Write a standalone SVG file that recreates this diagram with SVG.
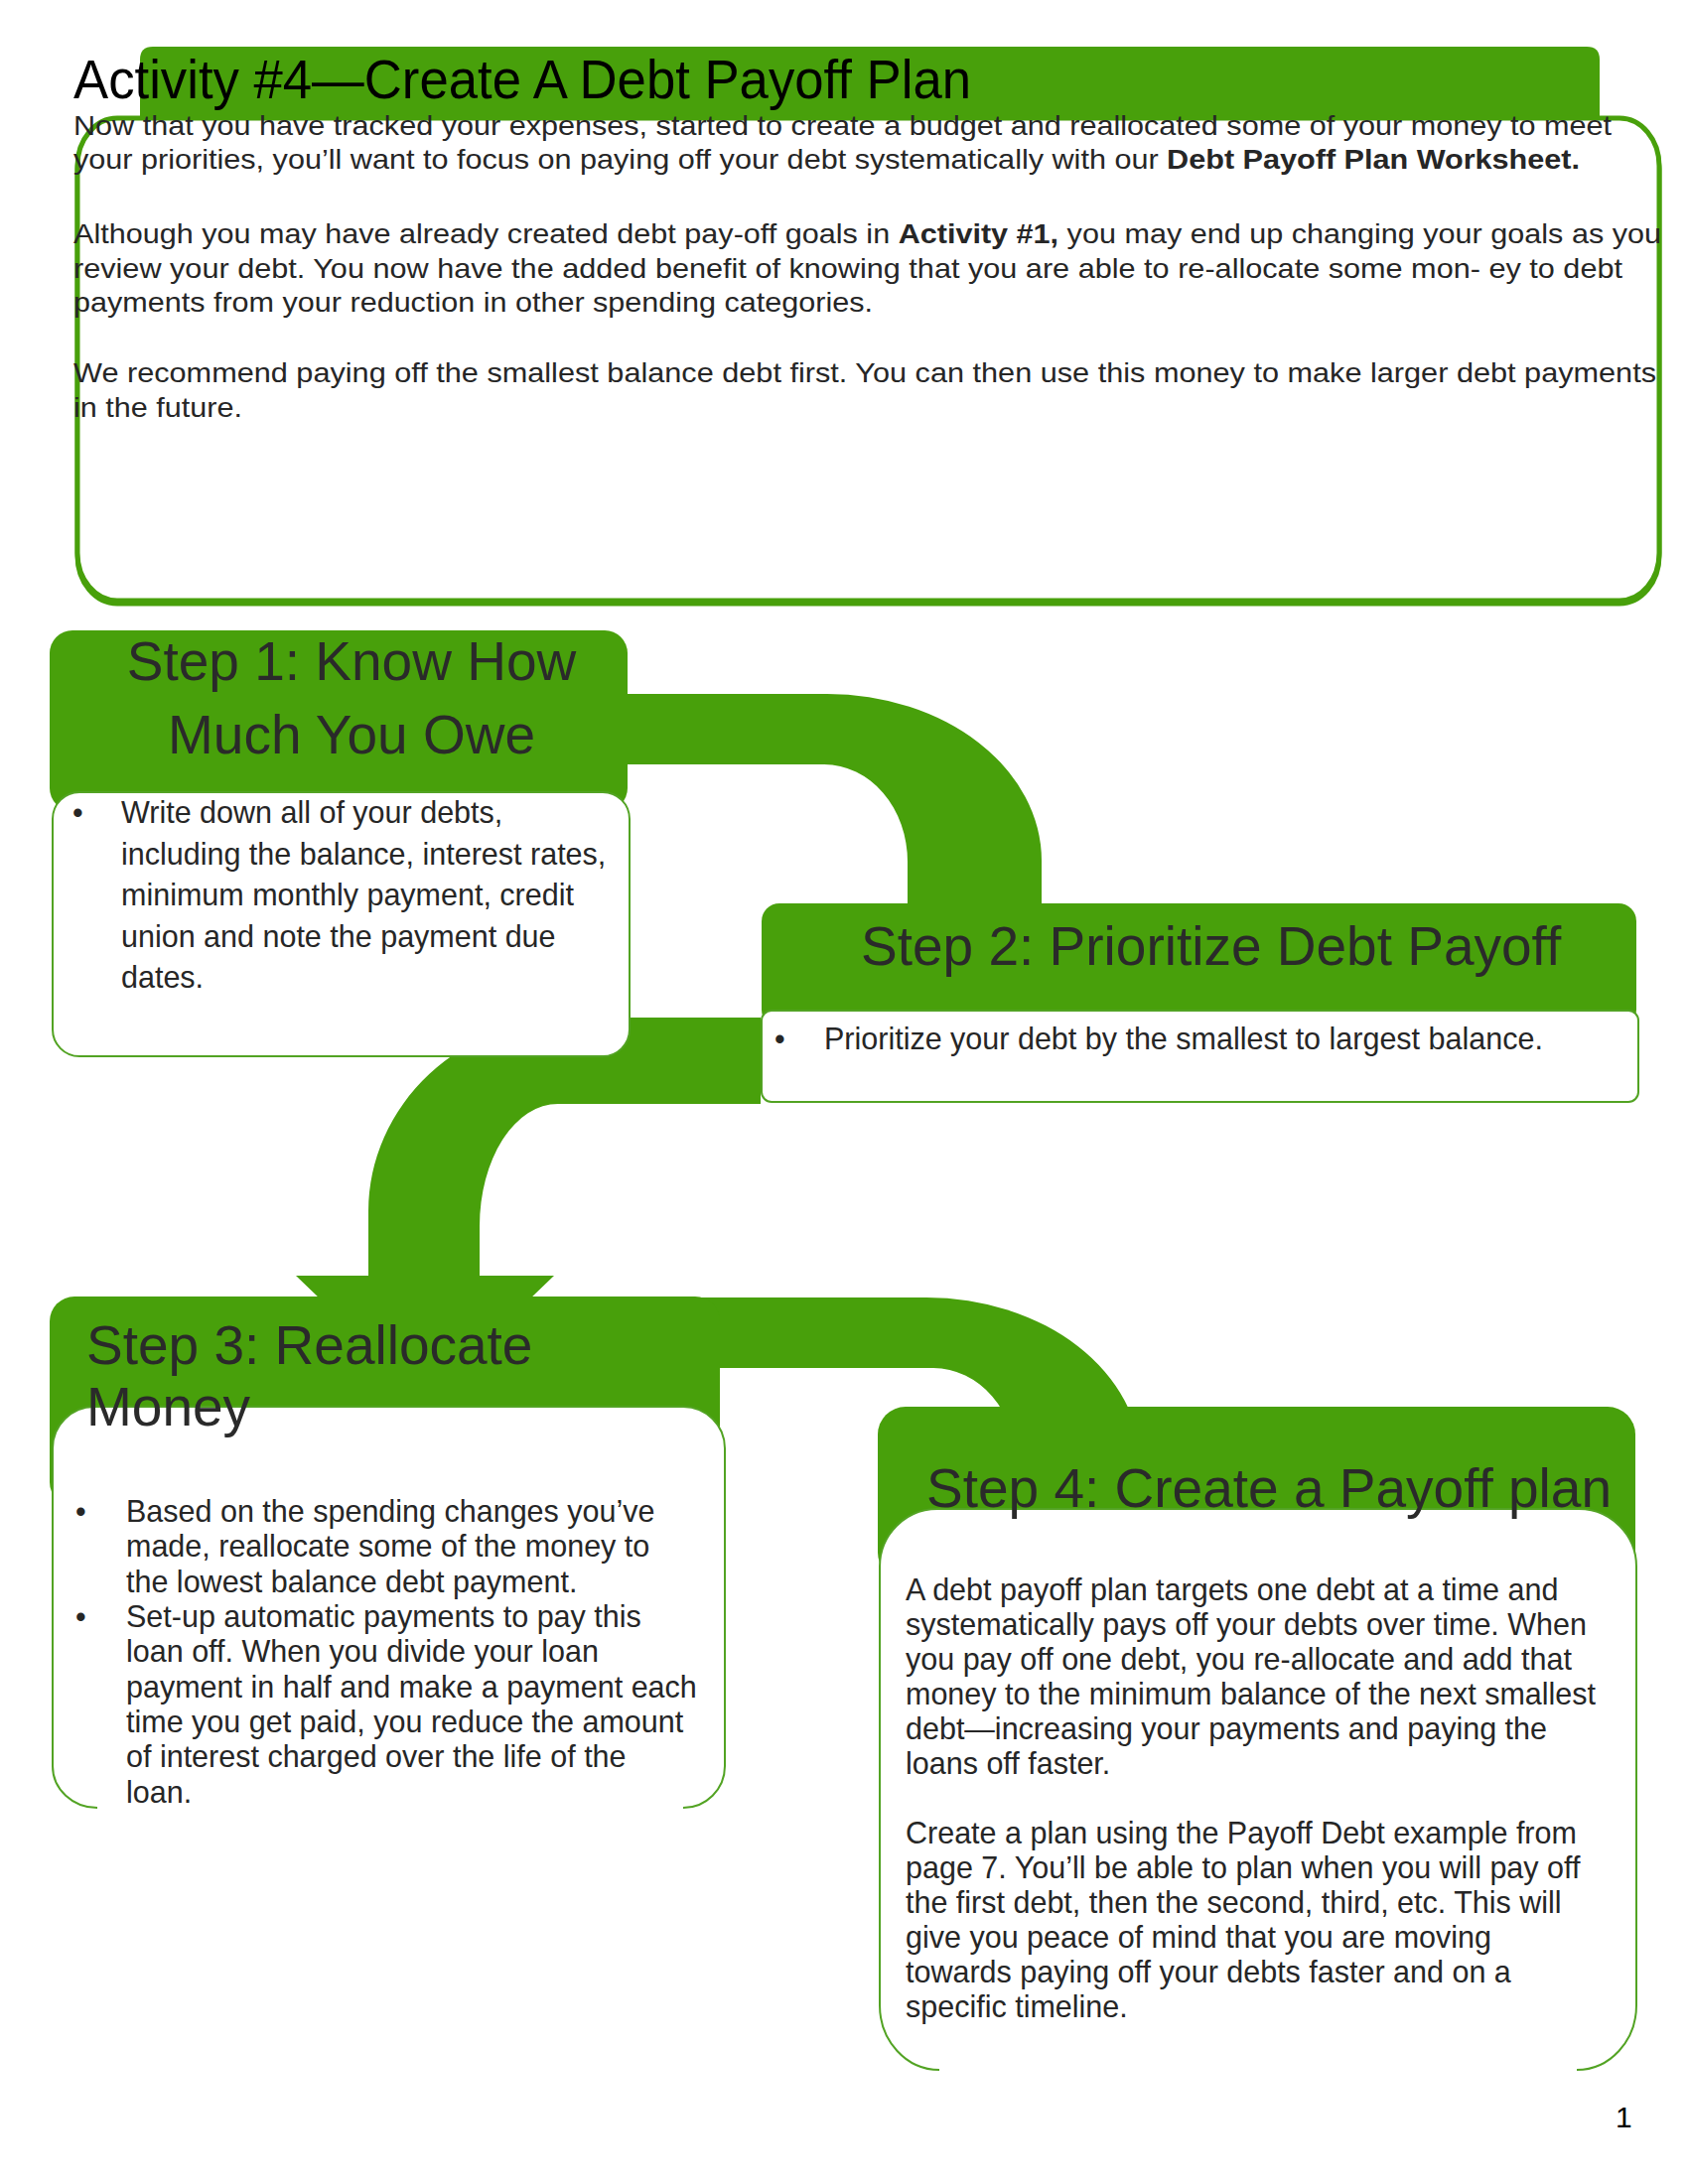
<svg xmlns="http://www.w3.org/2000/svg" width="1700" height="2200" viewBox="0 0 1700 2200">
<style>
.g{fill:#48a00b}
.box{fill:#fff;stroke:#52a323;stroke-width:2}
text{font-family:"Liberation Sans",Arial,sans-serif}
.ttl{font-size:55px;fill:#000}
.intro{font-size:28px;fill:#262626}
.hd{font-size:55px;fill:#2a2a2a}
.bt{font-size:30.5px;fill:#262626}
.pg{font-size:30px;fill:#000}
</style>
<rect width="1700" height="2200" fill="#fff"/>

<g id="title">
<path class="g" d="M141,119 V60 Q141,47 154,47 H1598 Q1611,47 1611,60 V119 Z"/>
<text class="ttl" x="74" y="99" textLength="904" lengthAdjust="spacingAndGlyphs">Activity #4—Create A Debt Payoff Plan</text>
</g>

<g id="intro">
<rect x="78" y="122" width="1593" height="486" rx="40" ry="48" fill="none" stroke="#48a00b" stroke-width="5"/>
<rect x="78" y="119" width="1593" height="486" rx="40" ry="48" fill="#fff" stroke="#48a00b" stroke-width="5"/>
<text class="intro" x="74" y="136" textLength="1549" lengthAdjust="spacingAndGlyphs">Now that you have tracked your expenses, started to create a budget and reallocated some of your money to meet</text>
<text class="intro" x="74" y="170" textLength="1517" lengthAdjust="spacingAndGlyphs">your priorities, you’ll want to focus on paying off your debt systematically with our <tspan font-weight="bold">Debt Payoff Plan Worksheet.</tspan></text>
<text class="intro" x="74" y="245" textLength="1599" lengthAdjust="spacingAndGlyphs">Although you may have already created debt pay-off goals in <tspan font-weight="bold">Activity #1,</tspan> you may end up changing your goals as you</text>
<text class="intro" x="74" y="280" textLength="1560" lengthAdjust="spacingAndGlyphs">review your debt. You now have the added benefit of knowing that you are able to re-allocate some mon- ey to debt</text>
<text class="intro" x="74" y="314" textLength="805" lengthAdjust="spacingAndGlyphs">payments from your reduction in other spending categories.</text>
<text class="intro" x="74" y="385" textLength="1594" lengthAdjust="spacingAndGlyphs">We recommend paying off the smallest balance debt first. You can then use this money to make larger debt payments</text>
<text class="intro" x="74" y="420" textLength="170" lengthAdjust="spacingAndGlyphs">in the future.</text>
</g>

<g id="connectors">
<path class="g" d="M620,699 H833 A216,168 0 0 1 1049,867 V918 H914 V868 A84,98 0 0 0 830,770 H620 Z"/>
<path class="g" d="M766,1025 H580 A209,195 0 0 0 371,1220 V1285 H298 L324,1310 H532 L558,1285 H483 V1235 A79,123 0 0 1 562,1112 H766 Z"/>
<path class="g" d="M700,1307 H933 A216,168 0 0 1 1149,1475 V1480 H1024 V1476 A84,98 0 0 0 940,1378 H700 Z"/>
</g>

<g id="step1">
<rect class="g" x="50" y="635" width="582" height="182" rx="23"/>
<text class="hd" x="354" y="685" text-anchor="middle">Step 1: Know How</text>
<text class="hd" x="354" y="759" text-anchor="middle">Much You Owe</text>
<rect class="box" x="53" y="798" width="581" height="266" rx="27"/>
<text class="bt" x="73" y="829">•</text>
<text class="bt" x="122" y="829">Write down all of your debts,</text>
<text class="bt" x="122" y="871">including the balance, interest rates,</text>
<text class="bt" x="122" y="912">minimum monthly payment, credit</text>
<text class="bt" x="122" y="954">union and note the payment due</text>
<text class="bt" x="122" y="995">dates.</text>
</g>

<g id="step2">
<rect class="g" x="767" y="910" width="881" height="125" rx="18"/>
<text class="hd" x="867" y="972">Step 2: Prioritize Debt Payoff</text>
<rect class="box" x="767" y="1018" width="883" height="92" rx="10"/>
<text class="bt" x="780" y="1057">•</text>
<text class="bt" x="830" y="1057">Prioritize your debt by the smallest to largest balance.</text>
</g>

<g id="step3">
<rect class="g" x="50" y="1306" width="675" height="212" rx="25"/>
<text class="hd" x="87" y="1374">Step 3: Reallocate</text>
<path class="box" d="M98,1821 A45,42 0 0 1 53,1779 V1459 A42,42 0 0 1 95,1417 H688 A42,42 0 0 1 730,1459 V1779 A42,42 0 0 1 688,1821"/>
<text class="hd" x="87" y="1436">Money</text>
<text class="bt" x="76" y="1533">•</text>
<text class="bt" x="127" y="1533">Based on the spending changes you’ve</text>
<text class="bt" x="127" y="1568">made, reallocate some of the money to</text>
<text class="bt" x="127" y="1604">the lowest balance debt payment.</text>
<text class="bt" x="76" y="1639">•</text>
<text class="bt" x="127" y="1639">Set-up automatic payments to pay this</text>
<text class="bt" x="127" y="1674">loan off. When you divide your loan</text>
<text class="bt" x="127" y="1710">payment in half and make a payment each</text>
<text class="bt" x="127" y="1745">time you get paid, you reduce the amount</text>
<text class="bt" x="127" y="1780">of interest charged over the life of the</text>
<text class="bt" x="127" y="1816">loan.</text>
</g>

<g id="step4">
<rect class="g" x="884" y="1417" width="763" height="175" rx="28"/>
<path class="box" d="M946,2085 A60,65 0 0 1 886,2020 V1578 A58,58 0 0 1 944,1520 H1590 A58,58 0 0 1 1648,1578 V2020 A60,65 0 0 1 1588,2085"/>
<text class="hd" x="933" y="1518">Step 4: Create a Payoff plan</text>
<text class="bt" x="912" y="1612">A debt payoff plan targets one debt at a time and</text>
<text class="bt" x="912" y="1647">systematically pays off your debts over time. When</text>
<text class="bt" x="912" y="1682">you pay off one debt, you re-allocate and add that</text>
<text class="bt" x="912" y="1717">money to the minimum balance of the next smallest</text>
<text class="bt" x="912" y="1752">debt—increasing your payments and paying the</text>
<text class="bt" x="912" y="1787">loans off faster.</text>
<text class="bt" x="912" y="1857">Create a plan using the Payoff Debt example from</text>
<text class="bt" x="912" y="1892">page 7. You’ll be able to plan when you will pay off</text>
<text class="bt" x="912" y="1927">the first debt, then the second, third, etc. This will</text>
<text class="bt" x="912" y="1962">give you peace of mind that you are moving</text>
<text class="bt" x="912" y="1997">towards paying off your debts faster and on a</text>
<text class="bt" x="912" y="2032">specific timeline.</text>
</g>

<text class="pg" x="1627" y="2143">1</text>
</svg>
